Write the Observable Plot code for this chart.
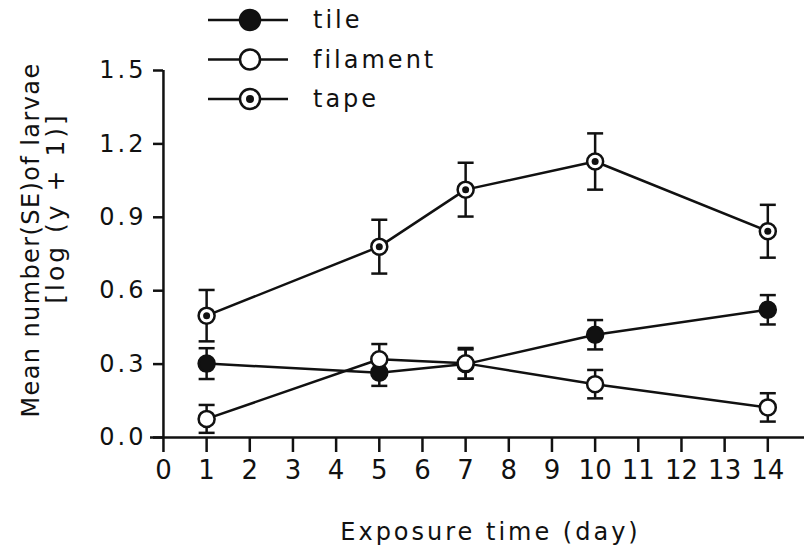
<!DOCTYPE html>
<html>
<head>
<meta charset="utf-8">
<script src="https://cdn.jsdelivr.net/npm/d3@7"></script>
<script src="https://cdn.jsdelivr.net/npm/@observablehq/plot@0.6"></script>
<style>
  html, body { margin: 0; padding: 0; background: #fff; }
  #wrap { position: relative; width: 804px; height: 549px; font-family: "DejaVu Sans", sans-serif; }
  #wrap svg text { letter-spacing: 3px; }
  #wrap g[aria-label="x-axis tick label"] text { letter-spacing: 0px; }
  #legend { position: absolute; left: 0; top: 0; }
</style>
</head>
<body>
<div id="wrap"></div>
<script>
// ---- data ----
const days = [1, 5, 7, 10, 14];
const seriesNames = ["tile", "filament", "tape"];
const tileMean = [0.302, 0.265, 0.300, 0.420, 0.522];
const tileSE = [0.063, 0.054, 0.060, 0.060, 0.060];
const filamentMean = [0.076, 0.320, 0.303, 0.218, 0.123];
const filamentSE = [0.057, 0.062, 0.063, 0.058, 0.058];
const tapeMean = [0.498, 0.780, 1.013, 1.128, 0.843];
const tapeSE = [0.105, 0.110, 0.110, 0.115, 0.108];
const xTicks = [0,1,2,3,4,5,6,7,8,9,10,11,12,13,14];
const yTicks = [0.0, 0.3, 0.6, 0.9, 1.2, 1.5];
const xTitle = "Exposure time (day)";
const yTitle1 = "Mean number(SE)of larvae";
const yTitle2 = "[log (y + 1)]";

const meansBy = {tile: tileMean, filament: filamentMean, tape: tapeMean};
const seBy = {tile: tileSE, filament: filamentSE, tape: tapeSE};
const rows = seriesNames.flatMap(s => days.map((d, i) => ({series: s, day: d, mean: meansBy[s][i], se: seBy[s][i]})));

const cap = {draw(ctx, size) { const r = Math.sqrt(size / Math.PI); ctx.moveTo(-r, 0); ctx.lineTo(r, 0); }};
const ink = "#111";
const sw = 2.5;

const chart = Plot.plot({
  width: 804, height: 549,
  marginLeft: 150, marginRight: 0, marginTop: 70, marginBottom: 112,
  style: {fontFamily: "DejaVu Sans, sans-serif", fontSize: "24px", color: ink, background: "#fff"},
  x: {domain: [-0.3, 14.85]},
  y: {domain: [0, 1.5]},
  marks: [
    Plot.ruleY([0], {stroke: ink, strokeWidth: sw}),
    Plot.ruleX([0], {y1: 0, y2: 1.5, stroke: ink, strokeWidth: sw}),
    Plot.axisX({ticks: xTicks, tickSize: 15, tickPadding: 8, strokeWidth: sw, fontSize: 26, label: null, tickFormat: d => String(d)}),
    Plot.axisY({ticks: yTicks, tickFormat: d3.format(".1f"), tickSize: 10, tickPadding: 7, strokeWidth: sw, dx: 13, fontSize: 24, label: null}),
    Plot.text([xTitle], {frameAnchor: "bottom", textAnchor: "middle", dx: 13, dy: 95, lineAnchor: "middle", fontSize: 24, fill: ink}),
    Plot.text([yTitle1], {frameAnchor: "left", textAnchor: "middle", rotate: -90, dx: -119, dy: -14, lineAnchor: "middle", fontSize: 24, fill: ink}),
    Plot.text([yTitle2], {frameAnchor: "left", textAnchor: "middle", rotate: -90, dx: -95, dy: -46, lineAnchor: "middle", fontSize: 25, fill: ink}),
    Plot.line(rows, {x: "day", y: "mean", z: "series", stroke: ink, strokeWidth: sw}),
    Plot.ruleX(rows, {x: "day", y1: d => d.mean - d.se, y2: d => d.mean + d.se, stroke: ink, strokeWidth: sw}),
    Plot.dot(rows, {x: "day", y: d => d.mean - d.se, symbol: cap, r: 8, stroke: ink, fill: "none", strokeWidth: sw}),
    Plot.dot(rows, {x: "day", y: d => d.mean + d.se, symbol: cap, r: 8, stroke: ink, fill: "none", strokeWidth: sw}),
    Plot.dot(rows, {x: "day", y: "mean", r: 8, stroke: ink, strokeWidth: sw, fill: d => d.series === "tile" ? ink : "#fff"}),
    Plot.dot(rows.filter(d => d.series === "tape"), {x: "day", y: "mean", r: 3.5, fill: ink})
  ]
});
d3.select(chart).selectAll("text").filter(function() { return this.textContent === yTitle1; })
  .style("letter-spacing", "1.4px");
const wrap = document.getElementById("wrap");
wrap.appendChild(chart);

// ---- legend (overlay) ----
const leg = d3.select(wrap).append("svg").attr("id", "legend").attr("width", 480).attr("height", 120)
  .style("font-family", "DejaVu Sans, sans-serif");
const rowY = i => 20 + i * 39.5;
seriesNames.forEach((s, i) => {
  const g = leg.append("g").attr("transform", `translate(0,${rowY(i)})`);
  g.append("line").attr("x1", 208).attr("x2", 288).attr("y1", 0).attr("y2", 0).attr("stroke", ink).attr("stroke-width", sw);
  g.append("circle").attr("cx", 250).attr("cy", 0).attr("r", 10).attr("stroke", ink).attr("stroke-width", sw)
    .attr("fill", s === "tile" ? ink : "#fff");
  if (s === "tape") g.append("circle").attr("cx", 250).attr("cy", 0).attr("r", 4).attr("fill", ink);
  g.append("text").attr("x", 313).attr("y", 0).attr("dy", "0.35em").attr("font-size", 24)
    .style("letter-spacing", "3px").attr("fill", ink).text(s);
});
</script>
</body>
</html>
